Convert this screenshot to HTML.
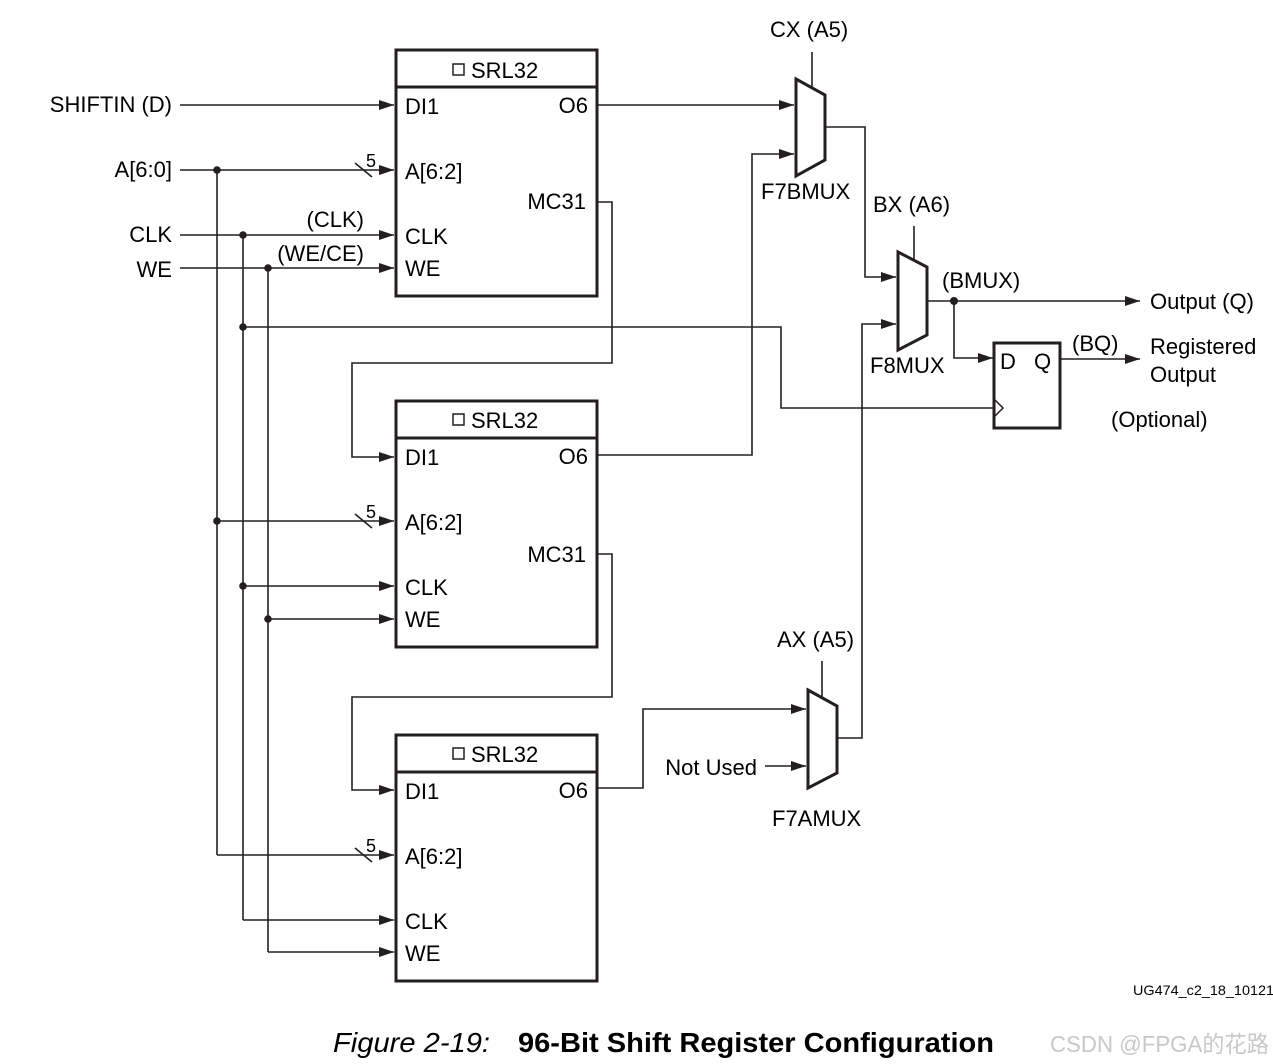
<!DOCTYPE html>
<html><head><meta charset="utf-8"><style>
html,body{margin:0;padding:0;background:#fff;}
svg{display:block;font-family:"Liberation Sans",Arial,sans-serif;}
</style></head><body>
<svg width="1273" height="1064" viewBox="0 0 1273 1064" xmlns="http://www.w3.org/2000/svg">
<defs>
<marker id="a" markerWidth="15" markerHeight="10" refX="15" refY="5" orient="auto" markerUnits="userSpaceOnUse"><path d="M0,0 L15,5 L0,10 z" fill="#231f20"/></marker>
</defs>
<g fill="none" stroke="#231f20" stroke-width="1.6">
<line x1="180" y1="105" x2="394" y2="105" marker-end="url(#a)"/>
<line x1="180" y1="170" x2="394" y2="170" marker-end="url(#a)"/>
<line x1="180" y1="235" x2="394" y2="235" marker-end="url(#a)"/>
<line x1="180" y1="268" x2="394" y2="268" marker-end="url(#a)"/>
<line x1="355" y1="163" x2="372" y2="177"/>
<line x1="217" y1="170" x2="217" y2="855"/>
<line x1="243" y1="235" x2="243" y2="920"/>
<line x1="268" y1="268" x2="268" y2="952"/>
<line x1="217" y1="521" x2="394" y2="521" marker-end="url(#a)"/>
<line x1="355" y1="514" x2="372" y2="528"/>
<line x1="243" y1="586" x2="394" y2="586" marker-end="url(#a)"/>
<line x1="268" y1="619" x2="394" y2="619" marker-end="url(#a)"/>
<line x1="217" y1="855" x2="394" y2="855" marker-end="url(#a)"/>
<line x1="355" y1="848" x2="372" y2="862"/>
<line x1="243" y1="920" x2="394" y2="920" marker-end="url(#a)"/>
<line x1="268" y1="952" x2="394" y2="952" marker-end="url(#a)"/>
<polyline points="243,327 781,327 781,408 994,408"/>
<polyline points="597,202 612,202 612,363 352,363 352,457 394,457" marker-end="url(#a)"/>
<polyline points="597,554 612,554 612,697 352,697 352,790 394,790" marker-end="url(#a)"/>
<line x1="597" y1="105" x2="794" y2="105" marker-end="url(#a)"/>
<polyline points="597,455 752,455 752,154 794,154" marker-end="url(#a)"/>
<polyline points="597,788 643,788 643,709 806,709" marker-end="url(#a)"/>
<line x1="765" y1="766" x2="806" y2="766" marker-end="url(#a)"/>
<line x1="812" y1="52" x2="812" y2="87"/>
<line x1="914" y1="226" x2="914" y2="259"/>
<line x1="822" y1="661" x2="822" y2="698"/>
<polyline points="825,127 865,127 865,277 896,277" marker-end="url(#a)"/>
<polyline points="836,738 862,738 862,324 896,324" marker-end="url(#a)"/>
<line x1="927" y1="301" x2="1140" y2="301" marker-end="url(#a)"/>
<polyline points="954,301 954,358 993,358" marker-end="url(#a)"/>
<line x1="1060" y1="359" x2="1140" y2="359" marker-end="url(#a)"/>
</g>
<g fill="#231f20">
<circle cx="217" cy="170" r="3.8"/><circle cx="217" cy="521" r="3.8"/>
<circle cx="243" cy="235" r="3.8"/><circle cx="243" cy="327" r="3.8"/><circle cx="243" cy="586" r="3.8"/>
<circle cx="268" cy="268" r="3.8"/><circle cx="268" cy="619" r="3.8"/>
<circle cx="954" cy="301" r="4"/>
</g>
<g fill="none" stroke="#231f20" stroke-width="3">
<rect x="396" y="50" width="201" height="246"/><line x1="396" y1="87" x2="597" y2="87"/>
<rect x="396" y="401" width="201" height="246"/><line x1="396" y1="438" x2="597" y2="438"/>
<rect x="396" y="735" width="201" height="246"/><line x1="396" y1="772" x2="597" y2="772"/>
<polygon points="796,79 825,95 825,160 796,176"/>
<polygon points="898,252 927,267 927,335 898,350"/>
<polygon points="808,690 837,706 837,773 808,788"/>
<rect x="994" y="343" width="66" height="85"/>
</g>
<polyline points="995,400 1003,408 995,416" fill="none" stroke="#231f20" stroke-width="1.5"/>
<g fill="none" stroke="#231f20" stroke-width="1.5">
<rect x="453" y="64" width="11" height="11"/><rect x="453" y="414" width="11" height="11"/><rect x="453" y="748" width="11" height="11"/>
</g>
<g font-size="22" fill="#000">
<text x="471" y="78">SRL32</text><text x="471" y="428">SRL32</text><text x="471" y="762">SRL32</text>
<text x="405" y="114">DI1</text><text x="588" y="113" text-anchor="end">O6</text>
<text x="405" y="179">A[6:2]</text><text x="586" y="209" text-anchor="end">MC31</text>
<text x="405" y="244">CLK</text><text x="405" y="276">WE</text>
<text x="405" y="465">DI1</text><text x="588" y="464" text-anchor="end">O6</text>
<text x="405" y="530">A[6:2]</text><text x="586" y="562" text-anchor="end">MC31</text>
<text x="405" y="595">CLK</text><text x="405" y="627">WE</text>
<text x="405" y="799">DI1</text><text x="588" y="798" text-anchor="end">O6</text>
<text x="405" y="864">A[6:2]</text>
<text x="405" y="929">CLK</text><text x="405" y="961">WE</text>
<text x="172" y="112" text-anchor="end">SHIFTIN (D)</text>
<text x="172" y="177" text-anchor="end">A[6:0]</text>
<text x="172" y="242" text-anchor="end">CLK</text>
<text x="172" y="277" text-anchor="end">WE</text>
<text x="364" y="227" text-anchor="end">(CLK)</text>
<text x="364" y="261" text-anchor="end">(WE/CE)</text>
<text x="366" y="167" font-size="18">5</text><text x="366" y="518" font-size="18">5</text><text x="366" y="852" font-size="18">5</text>
<text x="770" y="37">CX (A5)</text>
<text x="761" y="199">F7BMUX</text>
<text x="873" y="212">BX (A6)</text>
<text x="942" y="288">(BMUX)</text>
<text x="870" y="373">F8MUX</text>
<text x="1000" y="369">D</text><text x="1034" y="369">Q</text>
<text x="1072" y="351">(BQ)</text>
<text x="1150" y="309">Output (Q)</text>
<text x="1150" y="354">Registered</text>
<text x="1150" y="382">Output</text>
<text x="1111" y="427">(Optional)</text>
<text x="777" y="647">AX (A5)</text>
<text x="757" y="775" text-anchor="end">Not Used</text>
<text x="772" y="826">F7AMUX</text>
</g>
<text x="1133" y="995" font-size="14" fill="#000" textLength="141" lengthAdjust="spacingAndGlyphs">UG474_c2_18_10121</text>
<text x="333" y="1052" font-size="28" font-style="italic" fill="#000" textLength="157" lengthAdjust="spacingAndGlyphs">Figure 2-19:</text>
<text x="518" y="1052" font-size="28" font-weight="bold" fill="#000" textLength="476" lengthAdjust="spacingAndGlyphs">96-Bit Shift Register Configuration</text>
<text x="1050" y="1052" font-size="23" fill="#c8c8c8" font-family="'Liberation Sans','Noto Sans CJK SC',sans-serif" textLength="219" lengthAdjust="spacingAndGlyphs">CSDN @FPGA的花路</text>
</svg>
</body></html>
